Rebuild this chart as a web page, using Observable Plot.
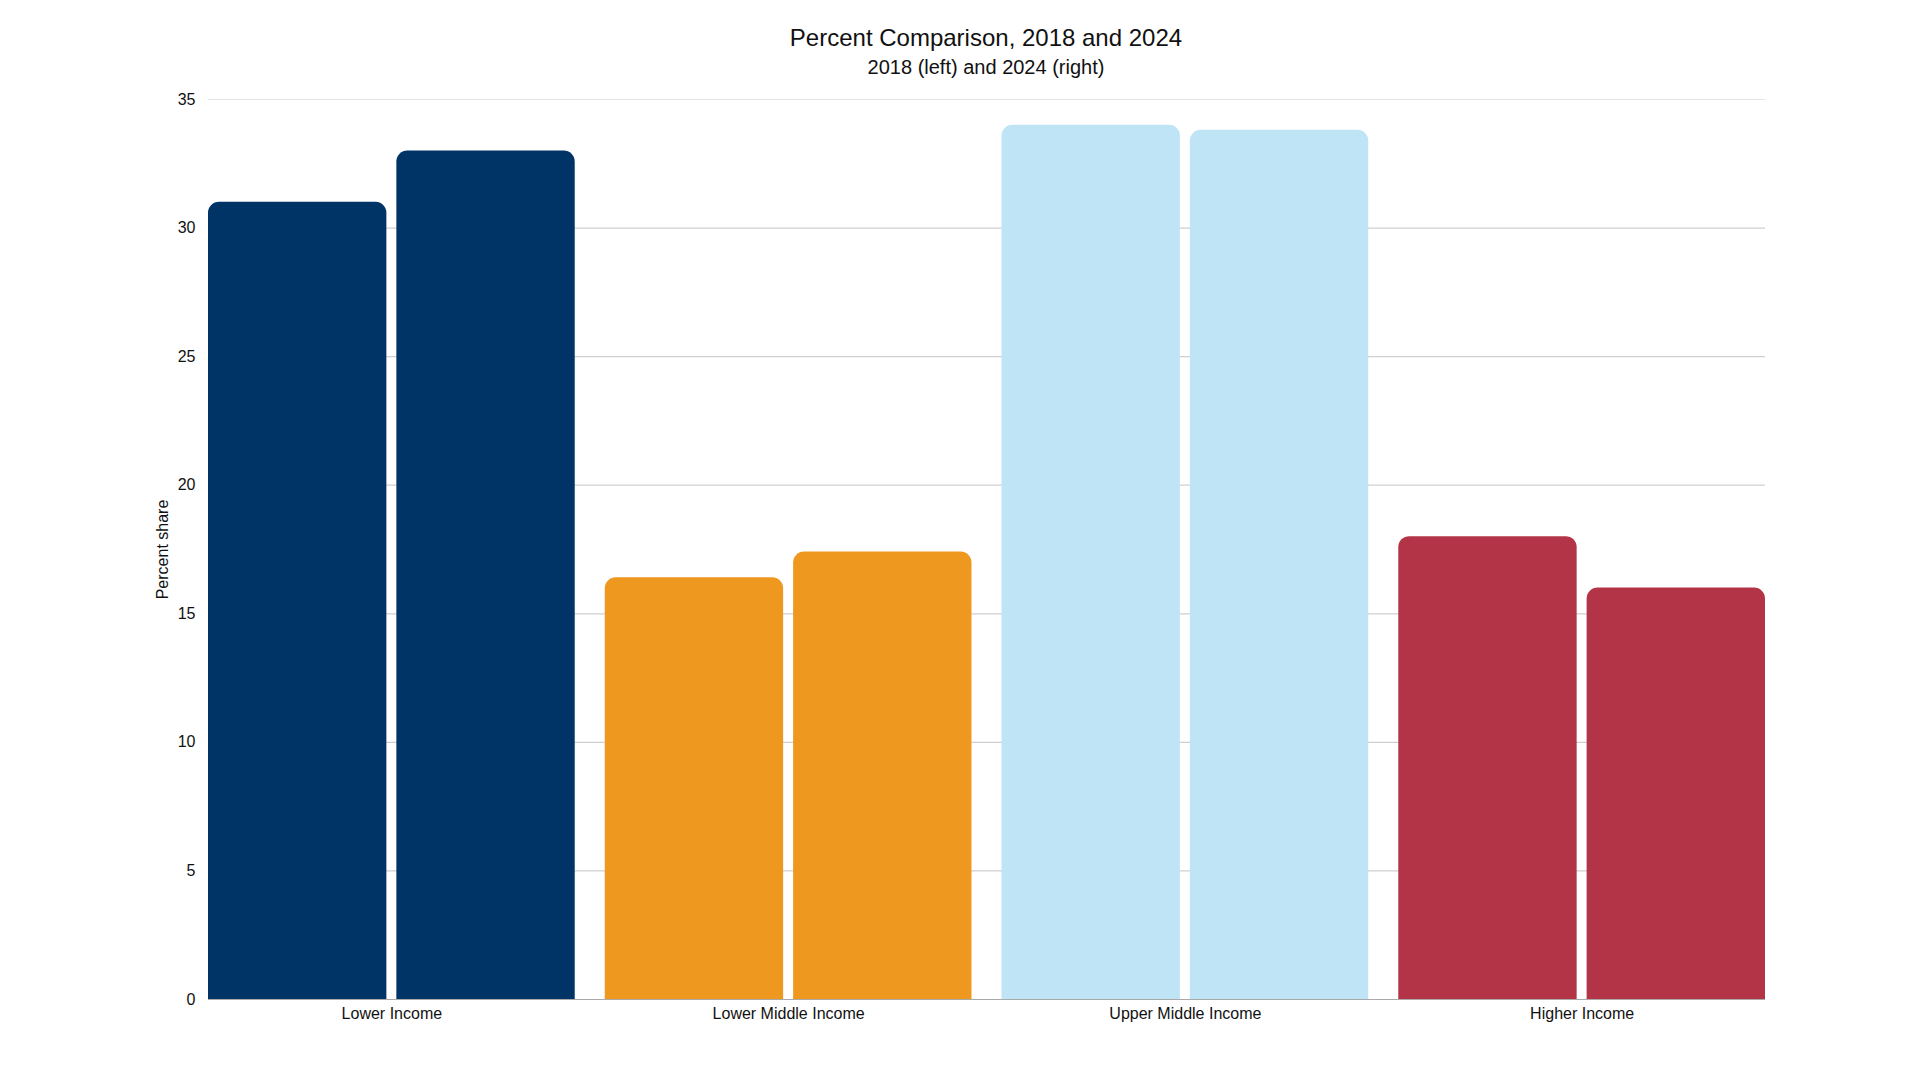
<!DOCTYPE html>
<html>
<head>
<meta charset="utf-8">
<script src="https://cdn.jsdelivr.net/npm/d3@7"></script>
<script src="https://cdn.jsdelivr.net/npm/@observablehq/plot@0.6"></script>
<style>
  html, body { margin: 0; padding: 0; background: #fff; }
  body { width: 1920px; height: 1080px; overflow: hidden; font-family: "Liberation Sans", Arial, sans-serif; color: #111; }
  #title { margin-left: 52px; padding-top: 24px; text-align: center; font-size: 24px; line-height: 28px; }
  #subtitle { margin-left: 52px; margin-top: 3px; text-align: center; font-size: 20px; line-height: 24px; }
  #chart { position: relative; width: 1920px; height: 1001px; }
  #chart svg { position: absolute; left: 0; top: 0; }
</style>
</head>
<body>
<div id="title">Percent Comparison, 2018 and 2024</div>
<div id="subtitle">2018 (left) and 2024 (right)</div>
<div id="chart"></div>
<script>
const categories = ["Lower Income", "Lower Middle Income", "Upper Middle Income", "Higher Income"];
const years = ["2018", "2024"];
const values2018 = [31.0, 16.4, 34.0, 18.0];
const values2024 = [33.0, 17.4, 33.8, 16.0];
const colors = ["#003466", "#EF981F", "#BEE4F6", "#B33446"];
const yTicks = [0, 5, 10, 15, 20, 25, 30, 35];

const table = [];
categories.forEach((c, i) => {
  table.push({category: c, year: years[0], value: values2018[i]});
  table.push({category: c, year: years[1], value: values2024[i]});
});

const layout = {
  width: 1920,
  height: 1001,
  marginLeft: 208,
  marginRight: 155,
  marginTop: 20,
  marginBottom: 81
};
const fontStyle = {fontFamily: "'Liberation Sans', Arial, sans-serif", fontSize: "16px", color: "#111", background: "transparent", overflow: "visible"};

// Underlay: y axis, gridlines and baseline spanning the whole plot width
const under = Plot.plot({
  ...layout,
  style: fontStyle,
  y: {domain: [0, 35]},
  marks: [
    Plot.ruleY(yTicks.filter(t => t > 0 && t < 35), {stroke: "#cfcfcf", strokeWidth: 1.2}),
    Plot.ruleY(yTicks.filter(t => t === 35), {stroke: "#e4e4e4", strokeWidth: 1.2}),
    Plot.ruleY([0], {stroke: "#aaaaaa", strokeWidth: 1.2}),
    Plot.axisY({ticks: yTicks, tickSize: 0, tickPadding: 13, label: "Percent share", labelAnchor: "center", labelArrow: "none", labelOffset: 52})
  ]
});

// Overlay: grouped bars and category labels
const over = Plot.plot({
  ...layout,
  style: fontStyle,
  fx: {domain: categories, paddingInner: 0.0757, paddingOuter: 0, round: false, label: null},
  x: {domain: years, paddingInner: 0.053, paddingOuter: 0, round: false, axis: null},
  y: {domain: [0, 35], axis: null},
  color: {domain: categories, range: colors},
  marks: [
    Plot.barY(table, {fx: "category", x: "year", y: "value", fill: "category", rx1y1: 11, rx2y1: 11}),
    Plot.axisFx({anchor: "bottom", tickSize: 0, tickPadding: 8, label: null})
  ]
});

const chart = document.getElementById("chart");
chart.appendChild(under);
chart.appendChild(over);
</script>
</body>
</html>
